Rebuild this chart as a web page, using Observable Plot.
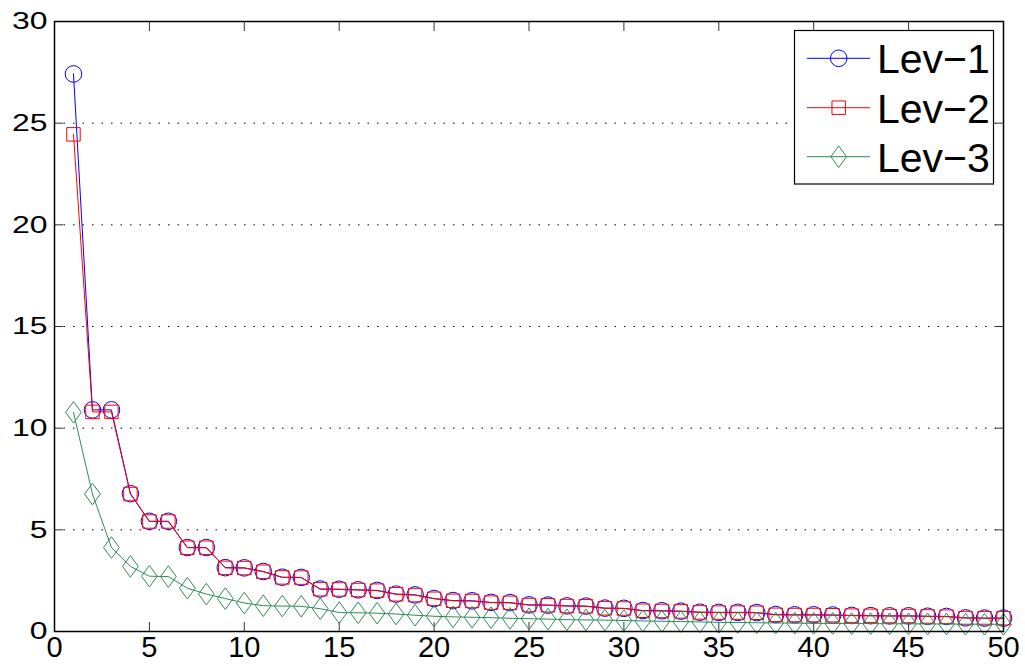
<!DOCTYPE html>
<html>
<head>
<meta charset="utf-8">
<script src="https://cdn.jsdelivr.net/npm/d3@7"></script>
<script src="https://cdn.jsdelivr.net/npm/@observablehq/plot@0.6"></script>
<style>
  html, body { margin: 0; padding: 0; background: #fff; }
  #wrap { position: relative; width: 1025px; height: 666px; overflow: hidden; }
  #legend { position: absolute; left: 0; top: 0; pointer-events: none; }
</style>
</head>
<body>
<div id="wrap"></div>
<script>
// ---- Data ----
const iterations = [1,2,3,4,5,6,7,8,9,10,11,12,13,14,15,16,17,18,19,20,21,22,23,24,25,
  26,27,28,29,30,31,32,33,34,35,36,37,38,39,40,41,42,43,44,45,46,47,48,49,50];

const lev1 = [27.42,10.9,10.9,6.78,5.42,5.42,4.13,4.13,3.14,3.13,2.95,2.67,2.66,2.09,2.08,2.05,2.02,1.84,1.8,1.62,
  1.52,1.51,1.43,1.42,1.31,1.3,1.26,1.25,1.15,1.14,1.03,1.02,1.0,0.95,0.94,0.94,0.93,0.83,0.82,0.82,
  0.81,0.79,0.78,0.77,0.77,0.75,0.74,0.67,0.66,0.66];

const lev2 = [24.45,10.8,10.8,6.76,5.41,5.41,4.12,4.12,3.13,3.12,2.94,2.66,2.65,2.08,2.07,2.04,2.01,1.83,1.79,1.61,
  1.51,1.5,1.42,1.41,1.3,1.29,1.25,1.24,1.14,1.13,1.02,1.01,0.99,0.94,0.93,0.93,0.92,0.82,0.81,0.81,
  0.8,0.78,0.77,0.76,0.76,0.74,0.73,0.66,0.65,0.65];

const lev3 = [10.78,6.76,4.13,3.2,2.72,2.7,2.13,1.84,1.62,1.4,1.27,1.25,1.24,1.12,0.93,0.92,0.9,0.86,0.8,0.75,
  0.72,0.7,0.68,0.65,0.63,0.61,0.58,0.57,0.56,0.54,0.52,0.5,0.49,0.47,0.45,0.44,0.43,0.42,0.41,0.4,
  0.4,0.39,0.39,0.38,0.38,0.37,0.37,0.36,0.36,0.35];

const seriesNames = ["Lev\u22121", "Lev\u22122", "Lev\u22123"];
const seriesColors = ["#0000ff", "#ff0000", "#2e8b57"];
const xTicks = [0,5,10,15,20,25,30,35,40,45,50];
const yTicks = [0,5,10,15,20,25,30];
const yGrid = [5,10,15,20,25];

// ---- Build tables ----
const seriesValues = [lev1, lev2, lev3];
const tables = seriesValues.map(vals => vals.map((v, i) => ({x: iterations[i], y: v})));

const diamond = {
  draw(context, size) {
    const r = Math.sqrt(size / Math.PI);
    const h = r * 1.3, w = r * 0.95;
    context.moveTo(0, -h);
    context.lineTo(w, 0);
    context.lineTo(0, h);
    context.lineTo(-w, 0);
    context.closePath();
  }
};
const symbols = ["circle", "square", diamond];
const radii = [8.3, 7.6, 8.3];

const font = "'Liberation Sans', Arial, Helvetica, sans-serif";

const marks = [
  Plot.gridY(yGrid, {stroke: "#000", strokeOpacity: 1, strokeDasharray: "1.5,8", strokeWidth: 1}),
  Plot.axisX(xTicks, {anchor: "bottom", tickSize: -9, tickPadding: 14, fontSize: 29, stroke: "#333", label: null}),
  Plot.axisX(xTicks, {anchor: "top", tickSize: -9, tickFormat: () => "", stroke: "#333", label: null}),
  Plot.axisY(yTicks, {anchor: "left", tickSize: -9, tickPadding: 16, fontSize: 24, stroke: "#333", label: null}),
  Plot.axisY(yTicks, {anchor: "right", tickSize: -9, tickFormat: () => "", stroke: "#333", label: null}),
];
tables.forEach((t, k) => {
  marks.push(Plot.line(t, {x: "x", y: "y", stroke: seriesColors[k], strokeWidth: 1}));
  marks.push(Plot.dot(t, {x: "x", y: "y", symbol: symbols[k], r: radii[k], stroke: seriesColors[k], fill: "none", strokeWidth: 1}));
});
marks.push(Plot.frame({stroke: "#000", strokeWidth: 1.5}));

const chart = Plot.plot({
  width: 1025,
  height: 666,
  marginLeft: 54,
  marginRight: 22,
  marginTop: 21,
  marginBottom: 35,
  x: {domain: [0, 50], label: null},
  y: {domain: [0, 30], label: null},
  style: {fontFamily: font, fontSize: "24px", color: "#000", background: "#fff", overflow: "visible"},
  marks
});
const wrap = document.getElementById("wrap");
wrap.appendChild(chart);

// stretch y tick labels horizontally like the reference
d3.select(chart).selectAll('g[aria-label="y-axis tick label"] text').each(function() {
  const len = this.getComputedTextLength();
  if (len > 0) {
    d3.select(this).attr("textLength", len * 1.33).attr("lengthAdjust", "spacingAndGlyphs");
  }
});

// ---- Legend overlay ----
const lg = d3.select(wrap).append("svg")
  .attr("id", "legend")
  .attr("width", 1025).attr("height", 666);
lg.append("rect")
  .attr("x", 794.5).attr("y", 30.5).attr("width", 199).attr("height", 153.5)
  .attr("fill", "#fff").attr("stroke", "#000").attr("stroke-width", 1.2);
const rowY = [58.3, 107.7, 156.7];
seriesNames.forEach((name, k) => {
  const g = lg.append("g").attr("transform", `translate(0,${rowY[k]})`);
  g.append("line").attr("x1", 807).attr("x2", 870).attr("y1", 0).attr("y2", 0)
    .attr("stroke", seriesColors[k]).attr("stroke-width", 1);
  const r = radii[k];
  const sym = k === 0 ? d3.symbolCircle : k === 1 ? d3.symbolSquare : diamond;
  g.append("path")
    .attr("d", d3.symbol(sym, Math.PI * r * r)())
    .attr("transform", "translate(838.7,0)")
    .attr("fill", "none").attr("stroke", seriesColors[k]).attr("stroke-width", 1);
  g.append("text").attr("x", 877).attr("y", 15)
    .attr("font-family", font).attr("font-size", 41).attr("fill", "#000")
    .text(name);
});
</script>
</body>
</html>
